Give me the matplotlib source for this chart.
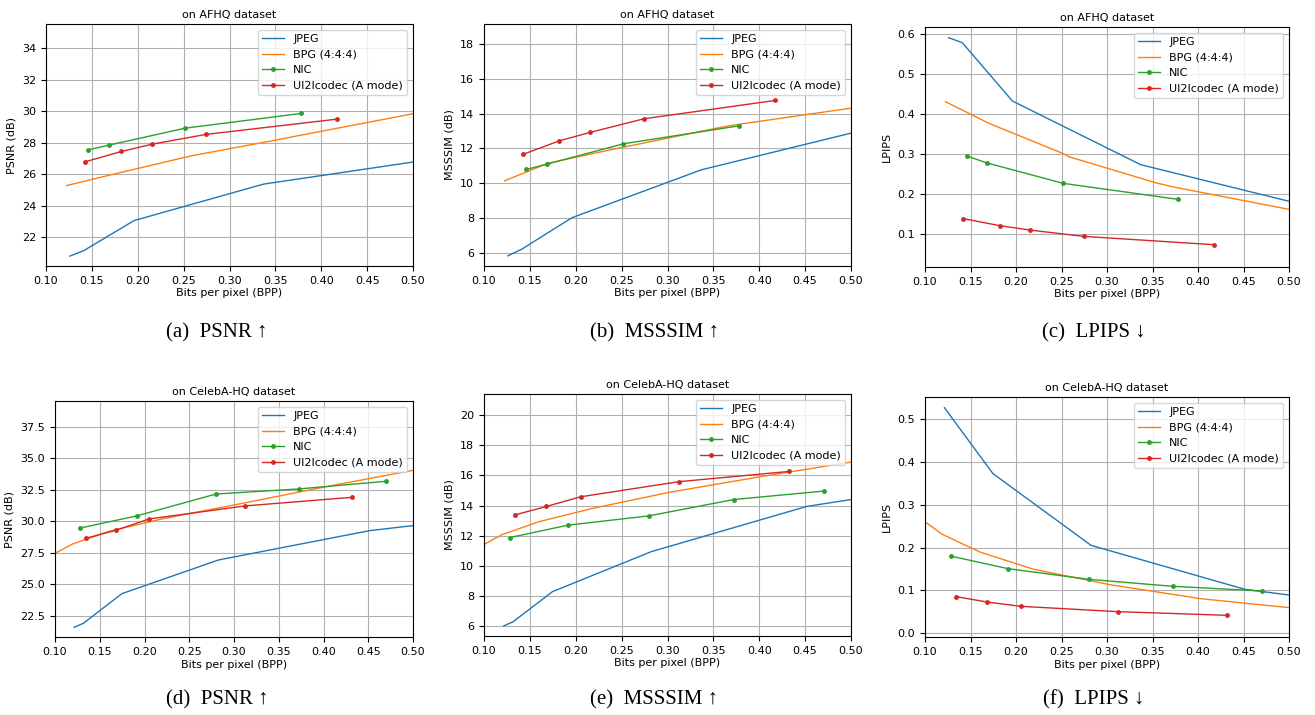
import matplotlib
matplotlib.use("Agg")
import matplotlib.pyplot as plt

# ---- data ----
methods = ["JPEG", "BPG (4:4:4)", "NIC", "UI2Icodec (A mode)"]

# AFHQ
afhq_jpeg_bpp = [0.126, 0.141, 0.196, 0.337, 0.50]
afhq_jpeg_psnr = [20.81, 21.15, 23.06, 25.37, 26.77]
afhq_jpeg_msssim = [5.85, 6.23, 8.04, 10.78, 12.88]
afhq_jpeg_lpips = [0.590, 0.5775, 0.4317, 0.2725, 0.181]

afhq_bpg_bpp = [0.1225, 0.170, 0.250, 0.259, 0.354, 0.373, 0.50]
afhq_bpg_psnr = [25.28, 25.95, 27.05, 27.17, 28.20, 28.42, 29.83]
afhq_bpg_msssim = [10.15, 11.16, 12.06, 12.15, 13.17, 13.35, 14.31]
afhq_bpg_lpips = [0.430, 0.376, 0.302, 0.2917, 0.227, 0.2167, 0.1608]

afhq_nic_bpp = [0.1462, 0.1683, 0.2520, 0.3783]
afhq_nic_psnr = [27.54, 27.84, 28.92, 29.85]
afhq_nic_msssim = [10.80, 11.10, 12.27, 13.30]
afhq_nic_lpips = [0.294, 0.2767, 0.2258, 0.1858]

afhq_ours_bpp = [0.1423, 0.1822, 0.2155, 0.2742, 0.4172]
afhq_ours_psnr = [26.78, 27.44, 27.90, 28.52, 29.49]
afhq_ours_msssim = [11.66, 12.44, 12.92, 13.70, 14.75]
afhq_ours_lpips = [0.1375, 0.120, 0.109, 0.0933, 0.0725]

# CelebA-HQ
celeba_jpeg_bpp = [0.1214, 0.1318, 0.1747, 0.2825, 0.4515, 0.50]
celeba_jpeg_psnr = [21.60, 21.92, 24.27, 26.94, 29.27, 29.67]
celeba_jpeg_msssim = [6.02, 6.31, 8.30, 10.95, 13.94, 14.40]
celeba_jpeg_lpips = [0.5273, 0.497, 0.3729, 0.2051, 0.1022, 0.0889]

celeba_bpg_bpp = [0.095, 0.1190, 0.1603, 0.2195, 0.3030, 0.4030, 0.50]
celeba_bpg_psnr = [27.28, 28.19, 29.22, 30.20, 31.35, 32.76, 34.06]
celeba_bpg_msssim = [11.25, 12.06, 12.94, 13.83, 14.89, 15.93, 16.88]
celeba_bpg_lpips = [0.268, 0.2309, 0.1895, 0.149, 0.1131, 0.0803, 0.0593]

celeba_nic_bpp = [0.1282, 0.1913, 0.2800, 0.3722, 0.4702]
celeba_nic_psnr = [29.48, 30.44, 32.18, 32.58, 33.19]
celeba_nic_msssim = [11.88, 12.70, 13.32, 14.40, 14.96]
celeba_nic_lpips = [0.180, 0.1505, 0.1256, 0.1092, 0.0983]

celeba_ours_bpp = [0.1343, 0.1681, 0.2052, 0.3121, 0.4322]
celeba_ours_psnr = [28.66, 29.30, 30.20, 31.23, 31.92]
celeba_ours_msssim = [13.39, 13.94, 14.58, 15.58, 16.26]
celeba_ours_lpips = [0.085, 0.0725, 0.0624, 0.0499, 0.0413]

titles = ["on AFHQ dataset", "on CelebA-HQ dataset"]
ylabels = ["PSNR (dB)", "MSSSIM (dB)", "LPIPS"]
captions = ["(a)  PSNR \u2191", "(b)  MSSSIM \u2191", "(c)  LPIPS \u2193",
            "(d)  PSNR \u2191", "(e)  MSSSIM \u2191", "(f)  LPIPS \u2193"]

plt.rcParams["font.size"] = 8
plt.rcParams["lines.linewidth"] = 1.0

W, H = 1315, 715
fig = plt.figure(figsize=(W / 100, H / 100), dpi=100)

# axes boxes in pixels: left, top, right, bottom
boxes = [(46, 24, 413, 266), (484, 24, 851, 266), (925, 27, 1289, 267),
         (55, 401, 413, 637), (484, 394, 851, 636), (925, 397, 1289, 637)]

panels = [
    (afhq_jpeg_bpp, afhq_jpeg_psnr, afhq_bpg_bpp, afhq_bpg_psnr,
     afhq_nic_bpp, afhq_nic_psnr, afhq_ours_bpp, afhq_ours_psnr, (20.18, 35.52), None),
    (afhq_jpeg_bpp, afhq_jpeg_msssim, afhq_bpg_bpp, afhq_bpg_msssim,
     afhq_nic_bpp, afhq_nic_msssim, afhq_ours_bpp, afhq_ours_msssim, (5.27, 19.13), None),
    (afhq_jpeg_bpp, afhq_jpeg_lpips, afhq_bpg_bpp, afhq_bpg_lpips,
     afhq_nic_bpp, afhq_nic_lpips, afhq_ours_bpp, afhq_ours_lpips, (0.0167, 0.6167), None),
    (celeba_jpeg_bpp, celeba_jpeg_psnr, celeba_bpg_bpp, celeba_bpg_psnr,
     celeba_nic_bpp, celeba_nic_psnr, celeba_ours_bpp, celeba_ours_psnr, (20.83, 39.56),
     [22.5, 25.0, 27.5, 30.0, 32.5, 35.0, 37.5]),
    (celeba_jpeg_bpp, celeba_jpeg_msssim, celeba_bpg_bpp, celeba_bpg_msssim,
     celeba_nic_bpp, celeba_nic_msssim, celeba_ours_bpp, celeba_ours_msssim, (5.36, 21.39), None),
    (celeba_jpeg_bpp, celeba_jpeg_lpips, celeba_bpg_bpp, celeba_bpg_lpips,
     celeba_nic_bpp, celeba_nic_lpips, celeba_ours_bpp, celeba_ours_lpips, (-0.0094, 0.5523), None),
]

for i, p in enumerate(panels):
    l, t, r, b = boxes[i]
    ax = fig.add_axes([l / W, 1 - b / H, (r - l) / W, (b - t) / H])
    jx, jy, bx, by, nx, ny, ox, oy, ylim, yt = p
    ax.plot(jx, jy, color="tab:blue", label=methods[0])
    ax.plot(bx, by, color="tab:orange", label=methods[1])
    ax.plot(nx, ny, color="tab:green", marker=".", markersize=5, label=methods[2])
    ax.plot(ox, oy, color="tab:red", marker=".", markersize=5, label=methods[3])
    ax.set_xlim(0.10, 0.50)
    ax.set_ylim(*ylim)
    ax.set_xticks([0.10, 0.15, 0.20, 0.25, 0.30, 0.35, 0.40, 0.45, 0.50])
    if yt is not None:
        ax.set_yticks(yt)
    ax.grid(True, linewidth=0.8)
    ax.set_xlabel("Bits per pixel (BPP)", labelpad=2)
    ax.set_ylabel(ylabels[i % 3])
    ax.set_title(titles[i // 3], fontsize=8, pad=4)
    ax.legend(loc="upper right")

    # subfigure caption below each panel
    cy = 333 if i < 3 else 700
    cx = (l + r) / 2 - 13
    if i % 3 == 0:
        cx = 217
    fig.text(cx / W, 1 - cy / H, captions[i], ha="center", va="center",
             fontsize=15, family=["Liberation Serif", "DejaVu Serif"])

plt.savefig("out.png", dpi=100)
